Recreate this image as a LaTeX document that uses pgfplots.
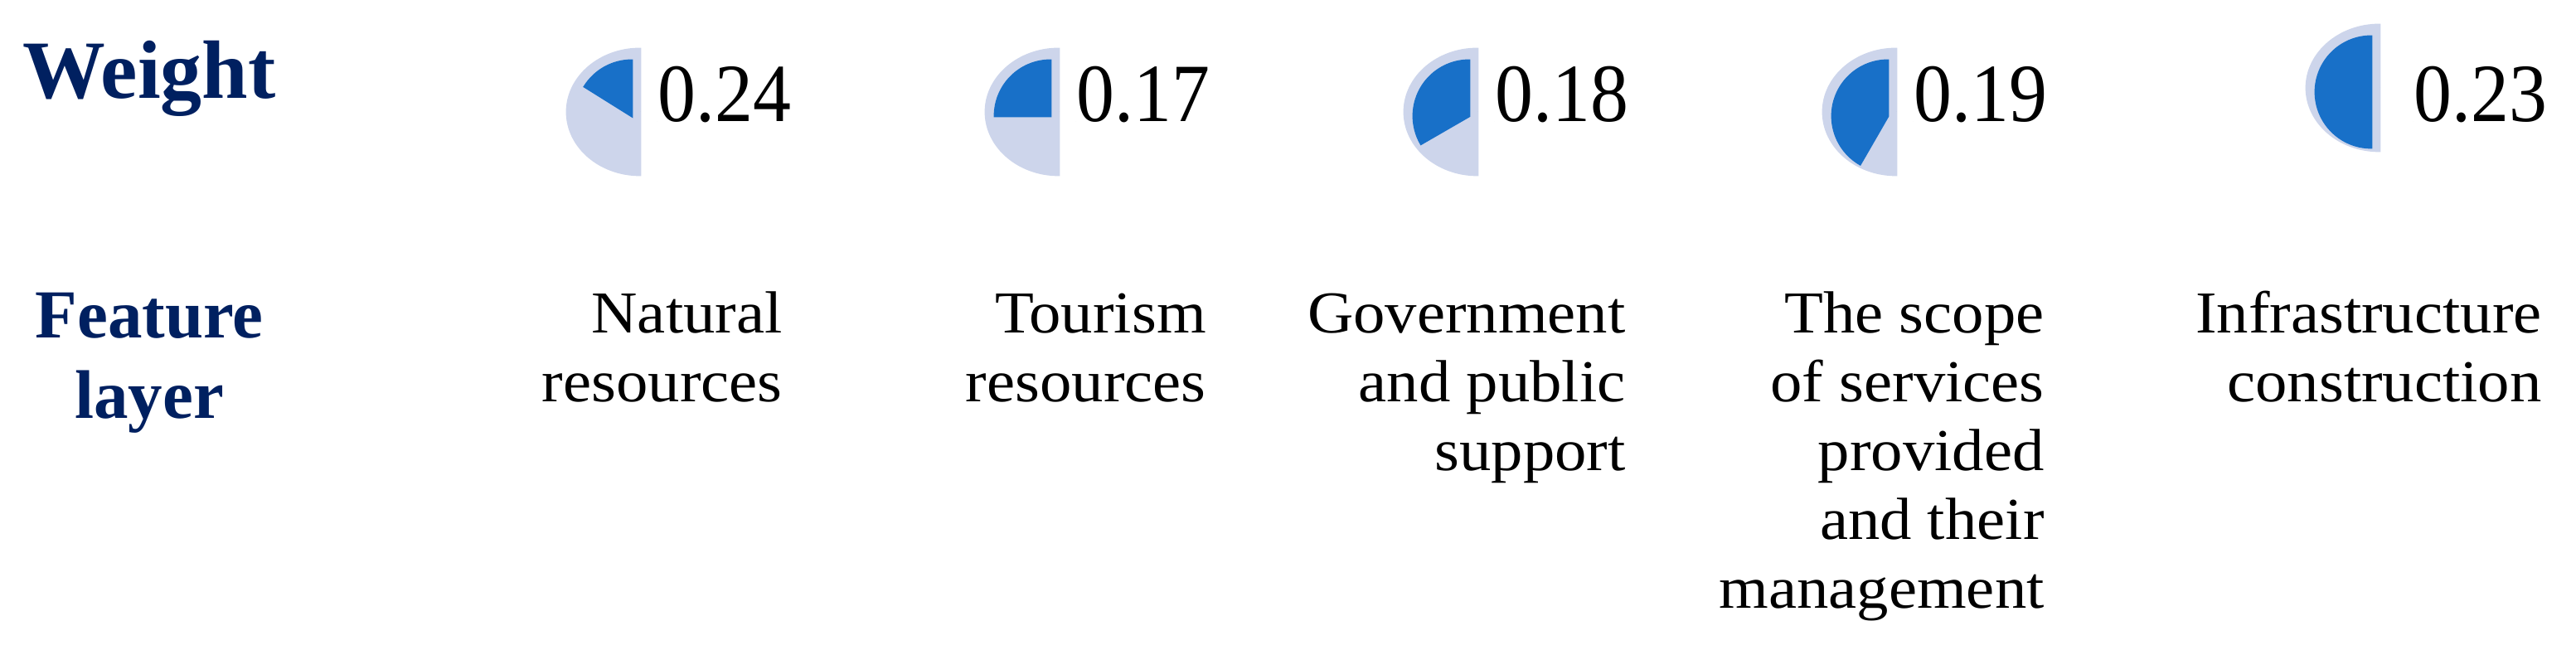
\documentclass[border=0pt]{standalone}
\usepackage{fontspec}
\setmainfont{Liberation Serif}
\newfontfamily\numfont{Liberation Serif}[FakeStretch=0.92]
\newfontfamily\labfont{Liberation Serif}[FakeStretch=1.07]
\usepackage{pgfplots}
\usepackage{pgfplotstable}
\pgfplotsset{compat=1.18}

\definecolor{navy}{HTML}{002060}
\definecolor{pieblue}{HTML}{1870C8}
\definecolor{pielight}{HTML}{CDD5EB}

% x = split line of the half disc, cy = its centre (image px, y down),
% ang = end angle of the blue sector, tx = left edge of the weight
\pgfplotstableread{
x    cy  ang tx   w
772  135 148 792  0.24
1277 135 180 1297 0.17
1782 135 210 1802 0.18
2287 135 240 2307 0.19
2870 106 270 2910 0.23
}\pies

\newcommand{\lab}[2]{%
  \node[anchor=base east, inner sep=0pt,
        font=\labfont\fontsize{10.2}{11.8}\selectfont]
    at (axis cs:#1,402) {\begin{tabular}[t]{@{}r@{}}#2\end{tabular}};}

\begin{document}
\begin{tikzpicture}
\begin{axis}[
  scale only axis, width=15.535cm, height=3.95cm,
  xmin=0, xmax=3107, ymin=0, ymax=790, y dir=reverse,
  hide axis, clip=false,
]
\path (axis cs:0,0) rectangle (axis cs:3107,790);

% half discs with the blue sector
\addplot[scatter, only marks, mark=*, mark size=0pt,
  mark options={draw=none, fill=none},
  point meta=\thisrow{ang},
  visualization depends on={\thisrow{ang} \as \endang},
  scatter/@pre marker code/.code={%
    \fill[pielight] (0,-3.8mm) -- (0,3.8mm)
      arc[start angle=90, end angle=270, x radius=4.4mm, y radius=3.8mm] -- cycle;
    \fill[pieblue] (-0.5mm,-0.25mm) -- ++(0,3.35mm)
      arc[start angle=90, end angle=\endang, x radius=3.35mm, y radius=3.35mm] -- cycle;
  },
  scatter/@post marker code/.code={},
] table[x=x, y=cy] {\pies};

% weights
\addplot[only marks, mark=*, mark size=0pt,
  mark options={draw=none, fill=none},
  point meta=explicit symbolic,
  nodes near coords,
  nodes near coords style={anchor=base west, inner sep=0pt,
    font=\numfont\fontsize{14.2}{17}\selectfont, text=black},
] table[x=tx, y expr=147, meta=w] {\pies};

\node[anchor=base, inner sep=0pt, text=navy,
      font=\bfseries\fontsize{14.2}{17}\selectfont]
  at (axis cs:180,119) {Weight};
\node[anchor=base, inner sep=0pt, text=navy,
      font=\bfseries\fontsize{11.8}{13.75}\selectfont]
  at (axis cs:180,408) {\begin{tabular}[t]{@{}c@{}}Feature\\layer\end{tabular}};

\lab{945}{Natural\\resources}
\lab{1456}{Tourism\\resources}
\lab{1962}{Government\\and public\\support}
\lab{2467}{The scope\\of services\\provided\\and their\\management}
\lab{3067}{Infrastructure\\construction}
\end{axis}
\end{tikzpicture}
\end{document}
